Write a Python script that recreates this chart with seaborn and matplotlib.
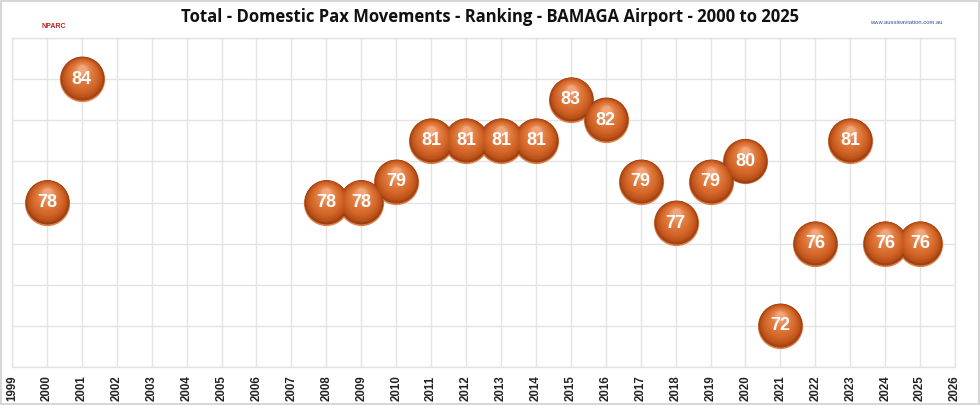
import matplotlib
matplotlib.use("Agg")
import matplotlib.pyplot as plt
import matplotlib.transforms as mtransforms
import numpy as np
import pandas as pd
import seaborn as sns

years = [2000, 2001, 2008, 2009, 2010, 2011, 2012, 2013, 2014, 2015,
         2016, 2017, 2018, 2019, 2020, 2021, 2022, 2023, 2024, 2025]
ranking = [78, 84, 78, 78, 79, 81, 81, 81, 81, 83,
           82, 79, 77, 79, 80, 72, 76, 81, 76, 76]
x_ticks = list(range(1999, 2027))
title = "Total - Domestic Pax Movements - Ranking - BAMAGA Airport - 2000 to 2025"

df = pd.DataFrame({"year": years, "rank": ranking})

sns.set_theme(style="white")
plt.rcParams['font.family'] = ['Liberation Sans', 'DejaVu Sans']

fig = plt.figure(figsize=(9.8, 4.05), dpi=100)
fig.patch.set_facecolor("white")
ax = fig.add_axes([12/980, 38/405, 943/980, 329/405])

ax.set_xlim(1999, 2026)
ax.set_ylim(70, 86)
ax.grid(True, color='#e3e3e3', linewidth=1.0)
for s in ax.spines.values():
    s.set_color('#e3e3e3')
    s.set_linewidth(1.0)
ax.set_axisbelow(True)

# sphere-like bubbles: layered circles shifted upward as they shrink
base_s = 1060
R_pt = np.sqrt(base_s) / 2
stops_t = np.array([0.0, 0.12, 0.35, 0.75, 1.0])
stops_c = np.array([[0x98, 0x3e, 0x12], [0xbc, 0x52, 0x1a], [0xd4, 0x66, 0x28],
                    [0xe4, 0x82, 0x48], [0xf2, 0xa6, 0x7a]]) / 255

def grad(t):
    return tuple(np.array([np.interp(t, stops_t, stops_c[:, k]) for k in range(3)]))

# bottom rim reflection
sns.scatterplot(data=df, x="year", y="rank", ax=ax, s=base_s, color='#de7e46',
                linewidth=0, legend=False, zorder=3)
N = 40
for i in range(N):
    t = i / (N - 1)
    f = 0.97 - 0.8 * t
    off = 0.6 + R_pt * 0.42 * t
    tr = mtransforms.offset_copy(ax.transData, fig=fig, x=0, y=off, units='points')
    sns.scatterplot(data=df, x="year", y="rank", ax=ax, s=base_s * f ** 2,
                    color=grad(t), linewidth=0, legend=False,
                    zorder=3.1 + i * 0.01, transform=tr)

for xv, yv in zip(years, ranking):
    ax.text(xv, yv, str(yv), ha='center', va='center', color='white',
            fontsize=13, fontweight='bold', zorder=5)

ax.set_xlabel("")
ax.set_ylabel("")
ax.set_xticks(x_ticks)
ax.set_xticklabels([str(t) for t in x_ticks], rotation=90, fontsize=8.3,
                   fontweight='bold', color='#222222')
ax.set_yticks(np.arange(70, 87, 2))
ax.tick_params(axis='both', length=0, pad=6)
ax.tick_params(axis='y', labelleft=False)

fig.text(0.5, 0.958, title, ha='center', va='center', fontsize=12,
         fontweight='bold', color='#111111', family=['Open Sans', 'DejaVu Sans'])

# logo placeholders
fig.text(0.055, 0.935, "NPARC", ha='center', va='center', fontsize=5,
         fontweight='bold', color='#b22222')
fig.text(0.925, 0.945, "www.aussieaviation.com.au", ha='center', va='center',
         fontsize=4.2, color='#2a4f9a')

fig.patches.append(plt.Rectangle((0.001, 0.002), 0.998, 0.996, transform=fig.transFigure,
                                 fill=False, edgecolor='#d0d0d0', linewidth=1.2))

fig.savefig("out.png", dpi=100)
